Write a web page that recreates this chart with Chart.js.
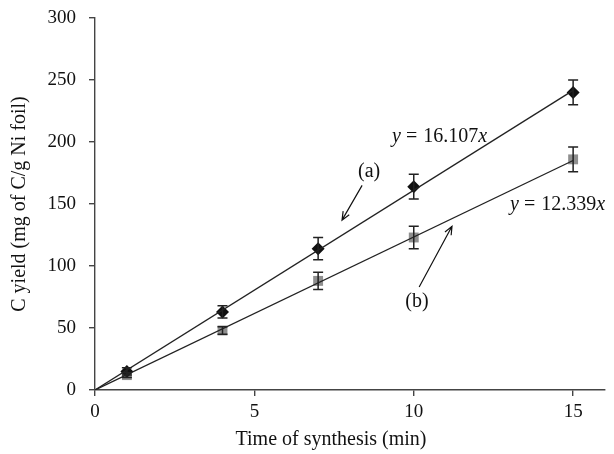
<!DOCTYPE html>
<html>
<head>
<meta charset="utf-8">
<script src="https://cdn.jsdelivr.net/npm/chart.js@4.4.1/dist/chart.umd.min.js"></script>
<style>
  html, body { margin: 0; padding: 0; background: #fff; }
  #wrap { width: 614px; height: 454px; }
</style>
</head>
<body>
<div id="wrap"><canvas id="yieldChart" width="614" height="454"></canvas></div>
<script>
// data
var times = [1, 4, 7, 10, 15];
var yieldA = [15, 63, 114, 164, 240];
var errA = [3, 5, 9, 10, 10];
var yieldB = [12, 48, 88, 123, 186];
var errB = [2, 3, 7, 9, 10];
var slopeA = 16.107;
var slopeB = 12.339;
var fitRange = [0, 15];
var xTicks = [0, 5, 10, 15];
var yTicks = [0, 50, 100, 150, 200, 250, 300];

var FONT = "'Liberation Serif', 'DejaVu Serif', serif";

function pts(xs, ys) {
  return xs.map(function (x, i) { return { x: x, y: ys[i] }; });
}
function fitLine(slope) {
  return fitRange.map(function (x) { return { x: x, y: slope * x }; });
}

// error bars drawn through the scales
var errorBars = {
  id: "errorBars",
  afterDatasetsDraw: function (chart) {
    var ctx = chart.ctx, xs = chart.scales.x, ys = chart.scales.y;
    [[yieldA, errA], [yieldB, errB]].forEach(function (s) {
      ctx.save();
      ctx.strokeStyle = "#222";
      ctx.lineWidth = 1.5;
      times.forEach(function (t, i) {
        var px = xs.getPixelForValue(t);
        var top = ys.getPixelForValue(s[0][i] + s[1][i]);
        var bot = ys.getPixelForValue(s[0][i] - s[1][i]);
        ctx.beginPath();
        ctx.moveTo(px, top); ctx.lineTo(px, bot);
        ctx.moveTo(px - 5, top); ctx.lineTo(px + 5, top);
        ctx.moveTo(px - 5, bot); ctx.lineTo(px + 5, bot);
        ctx.stroke();
      });
      ctx.restore();
    });
  }
};

// equation labels, (a)/(b) labels, arrows and x title
var notes = {
  id: "notes",
  afterDraw: function (chart) {
    var ctx = chart.ctx, xs = chart.scales.x, ys = chart.scales.y;
    function P(x, y) { return [xs.getPixelForValue(x), ys.getPixelForValue(y)]; }
    function eq(x, y, num) {
      var p = P(x, y);
      ctx.save();
      ctx.fillStyle = "#111";
      ctx.textBaseline = "middle";
      ctx.textAlign = "left";
      var cx = p[0];
      ctx.font = "italic 20px " + FONT;
      ctx.fillText("y", cx, p[1]); cx += ctx.measureText("y").width + 5;
      ctx.font = "20px " + FONT;
      ctx.fillText("=", cx, p[1]); cx += ctx.measureText("=").width + 6;
      ctx.fillText(num, cx, p[1]); cx += ctx.measureText(num).width;
      ctx.font = "italic 20px " + FONT;
      ctx.fillText("x", cx, p[1]);
      ctx.restore();
    }
    function label(x, y, t) {
      var p = P(x, y);
      ctx.save();
      ctx.fillStyle = "#111";
      ctx.font = "20px " + FONT;
      ctx.textAlign = "center";
      ctx.textBaseline = "middle";
      ctx.fillText(t, p[0], p[1]);
      ctx.restore();
    }
    function arrow(x0, y0, x1, y1) {
      var a = P(x0, y0), b = P(x1, y1);
      var ang = Math.atan2(b[1] - a[1], b[0] - a[0]);
      ctx.save();
      ctx.strokeStyle = "#111";
      ctx.lineWidth = 1.2;
      ctx.beginPath();
      ctx.moveTo(a[0], a[1]); ctx.lineTo(b[0], b[1]);
      ctx.moveTo(b[0] - 9 * Math.cos(ang - 0.4), b[1] - 9 * Math.sin(ang - 0.4));
      ctx.lineTo(b[0], b[1]);
      ctx.lineTo(b[0] - 9 * Math.cos(ang + 0.4), b[1] - 9 * Math.sin(ang + 0.4));
      ctx.stroke();
      ctx.restore();
    }
    eq(9.32, 204, "16.107");
    eq(13.02, 149, "12.339");
    label(8.6, 176, "(a)");
    label(10.1, 71, "(b)");
    arrow(8.38, 165, 7.75, 137);
    arrow(10.17, 83, 11.2, 132);

    // x axis title, sits a little left of the plot centre in the original
    ctx.save();
    ctx.fillStyle = "#111";
    ctx.font = "20px " + FONT;
    ctx.textAlign = "center";
    ctx.textBaseline = "middle";
    ctx.fillText("Time of synthesis (min)", 331, 440);
    ctx.restore();
  }
};

var ctx = document.getElementById("yieldChart").getContext("2d");
var chart = new Chart(ctx, {
  type: "scatter",
  data: {
    datasets: [
      {
        label: "fit a",
        type: "line",
        data: fitLine(slopeA),
        borderColor: "#222",
        borderWidth: 1.3,
        pointRadius: 0,
        fill: false
      },
      {
        label: "fit b",
        type: "line",
        data: fitLine(slopeB),
        borderColor: "#222",
        borderWidth: 1.3,
        pointRadius: 0,
        fill: false
      },
      {
        label: "(a)",
        data: pts(times, yieldA),
        pointStyle: "rectRot",
        pointRadius: 6.5,
        backgroundColor: "#111",
        borderColor: "#111",
        borderWidth: 0
      },
      {
        label: "(b)",
        data: pts(times, yieldB),
        pointStyle: "rect",
        pointRadius: 7,
        backgroundColor: "#8f8f8f",
        borderColor: "#8f8f8f",
        borderWidth: 0
      }
    ]
  },
  options: {
    responsive: false,
    animation: false,
    layout: { padding: { top: 18, right: 9, left: 0, bottom: 0 } },
    plugins: {
      legend: { display: false },
      tooltip: { enabled: false }
    },
    scales: {
      x: {
        type: "linear",
        min: 0,
        max: 16,
        afterBuildTicks: function (axis) {
          axis.ticks = xTicks.map(function (v) { return { value: v }; });
        },
        afterFit: function (axis) {
          axis.height = 64;
          axis.paddingLeft = 0;
          axis.paddingRight = 0;
        },
        grid: { drawOnChartArea: false, tickLength: 6, color: "#444", lineWidth: 1.4 },
        border: { color: "#444", width: 1.4 },
        ticks: { color: "#111", font: { family: FONT, size: 19 }, padding: 5, maxRotation: 0 },
        title: { display: false }
      },
      y: {
        min: 0,
        max: 300,
        afterBuildTicks: function (axis) {
          axis.ticks = yTicks.map(function (v) { return { value: v }; });
        },
        afterFit: function (axis) {
          axis.width = 95;
          axis.paddingTop = 0;
          axis.paddingBottom = 0;
        },
        grid: { drawOnChartArea: false, tickLength: 6, color: "#444", lineWidth: 1.4 },
        border: { color: "#444", width: 1.4 },
        ticks: { color: "#111", font: { family: FONT, size: 19 }, padding: 13 },
        title: {
          display: true,
          text: "C yield (mg of C/g Ni foil)",
          color: "#111",
          font: { family: FONT, size: 20 },
          padding: { top: 8, bottom: 0 }
        }
      }
    }
  },
  plugins: [errorBars, notes]
});
</script>
</body>
</html>
